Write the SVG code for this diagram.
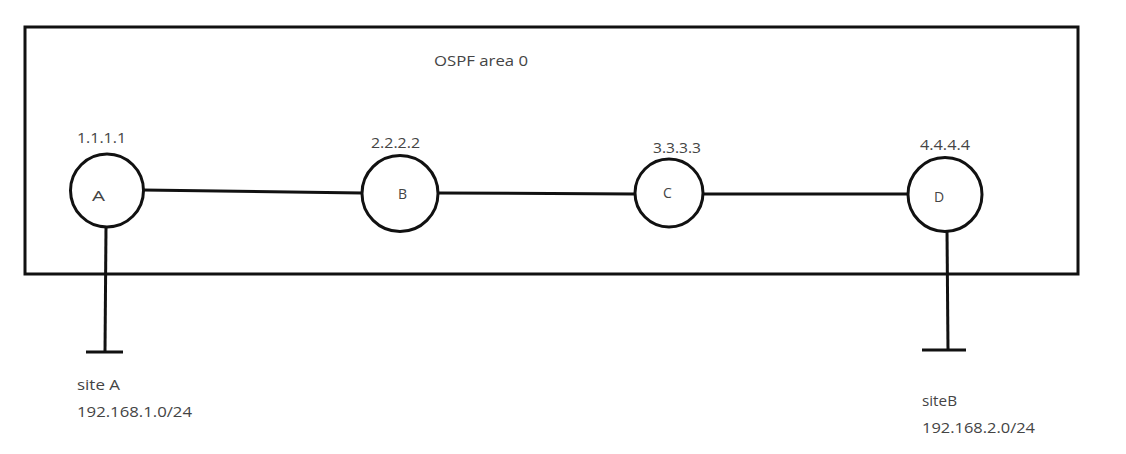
<svg xmlns="http://www.w3.org/2000/svg" width="1126" height="454" viewBox="0 0 1126 454">
<style>
.ln{stroke:#111;stroke-width:3;fill:none}
.nd{stroke:#111;stroke-width:3;fill:#fff}
text{font-family:"Open Sans","Noto Sans",sans-serif;font-size:14px;fill:#444}
</style>
<rect width="1126" height="454" fill="#fff"/>
<rect id="area0" x="25" y="27" width="1053" height="247" class="ln"/>
<text x="434" y="66" textLength="94" lengthAdjust="spacingAndGlyphs">OSPF area 0</text>
<g id="connectors">
<line x1="143" y1="190" x2="362" y2="193" class="ln"/>
<line x1="438" y1="193" x2="635" y2="194" class="ln"/>
<line x1="703" y1="194" x2="907" y2="194" class="ln"/>
<line x1="106" y1="227" x2="105" y2="352" class="ln"/>
<line x1="86" y1="352" x2="123" y2="352" class="ln"/>
<line x1="947" y1="230" x2="948" y2="350" class="ln"/>
<line x1="922" y1="350" x2="966" y2="350" class="ln"/>
</g>
<g id="nodeA">
<circle cx="107" cy="190.5" r="36.5" class="nd"/>
<text x="92" y="201" textLength="13" lengthAdjust="spacingAndGlyphs">A</text>
<text x="77" y="143" textLength="49" lengthAdjust="spacingAndGlyphs">1.1.1.1</text>
</g>
<g id="nodeB">
<circle cx="400" cy="193.5" r="38" class="nd"/>
<text x="398" y="199">B</text>
<text x="371" y="148" textLength="49" lengthAdjust="spacingAndGlyphs">2.2.2.2</text>
</g>
<g id="nodeC">
<circle cx="669" cy="193" r="34" class="nd"/>
<text x="663" y="198">C</text>
<text x="653" y="153" textLength="48" lengthAdjust="spacingAndGlyphs">3.3.3.3</text>
</g>
<g id="nodeD">
<circle cx="945" cy="194.5" r="37" class="nd"/>
<text x="934" y="202">D</text>
<text x="920" y="150" textLength="50" lengthAdjust="spacingAndGlyphs">4.4.4.4</text>
</g>
<g id="siteA">
<text x="77" y="390" textLength="43" lengthAdjust="spacingAndGlyphs">site A</text>
<text x="77" y="417" textLength="115" lengthAdjust="spacingAndGlyphs">192.168.1.0/24</text>
</g>
<g id="siteB">
<text x="922" y="406" textLength="35" lengthAdjust="spacingAndGlyphs">siteB</text>
<text x="922" y="433" textLength="113" lengthAdjust="spacingAndGlyphs">192.168.2.0/24</text>
</g>
</svg>
